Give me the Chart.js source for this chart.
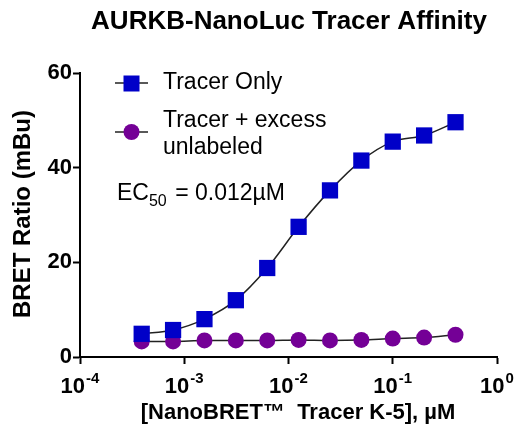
<!DOCTYPE html>
<html>
<head>
<meta charset="utf-8">
<script src="https://cdn.jsdelivr.net/npm/chart.js@4.4.1/dist/chart.umd.min.js"></script>
<style>
  body { margin: 0; background: #fff; }
  canvas { display: block; }
</style>
</head>
<body>
<canvas id="canvas" width="517" height="429"></canvas>
<script>
// tracer concentrations (uM), 2-fold dilutions
const CONC = [0.000390625, 0.00078125, 0.0015625, 0.003125, 0.00625, 0.0125, 0.025, 0.05, 0.1, 0.2, 0.4];
const TRACER_ONLY = [4.9, 5.7, 8.0, 12.0, 18.8, 27.5, 35.2, 41.5, 45.5, 46.8, 49.6];
const TRACER_EXCESS = [3.3, 3.3, 3.5, 3.5, 3.5, 3.6, 3.5, 3.6, 3.9, 4.1, 4.7];
const X_TICKS = [-4, -3, -2, -1, 0];   // exponents
const Y_TICKS = [0, 20, 40, 60];

const FONT = '"Liberation Sans", Arial, sans-serif';
const BLUE = '#0000c8';
const PURPLE = '#740096';

const toPoints = (ys) => CONC.map((x, i) => ({ x: x, y: ys[i] }));

// draws title, axis titles, x tick labels with superscripts, legend and EC50 note
const extrasPlugin = {
    id: 'extras',
    afterDraw(chart) {
        const ctx = chart.ctx;
        const xs = chart.scales.x;
        const area = chart.chartArea;
        ctx.save();
        ctx.fillStyle = '#000';

        // title
        ctx.font = 'bold 26px ' + FONT;
        ctx.textAlign = 'center';
        ctx.textBaseline = 'middle';
        ctx.fillText('AURKB-NanoLuc Tracer Affinity', 289, 22);

        // x tick labels: 10^n
        X_TICKS.forEach((e) => {
            const px = xs.getPixelForValue(Math.pow(10, e));
            const base = '10';
            const sup = e === 0 ? '0' : '-' + Math.abs(e);
            ctx.font = 'bold 22px ' + FONT;
            const wb = ctx.measureText(base).width;
            ctx.font = 'bold 15px ' + FONT;
            const ws = ctx.measureText(sup).width;
            const x0 = px - (wb + ws + 1) / 2;
            ctx.textAlign = 'left';
            ctx.textBaseline = 'alphabetic';
            ctx.font = 'bold 22px ' + FONT;
            ctx.fillText(base, x0, 393);
            ctx.font = 'bold 15px ' + FONT;
            ctx.fillText(sup, x0 + wb + 1, 383);
        });

        // axis titles
        ctx.font = 'bold 22px ' + FONT;
        ctx.textAlign = 'center';
        ctx.textBaseline = 'middle';
        ctx.fillText('[NanoBRET\u2122  Tracer K-5], \u00b5M', 298, 413);
        ctx.save();
        ctx.translate(23, 214);
        ctx.rotate(-Math.PI / 2);
        ctx.font = 'bold 24px ' + FONT;
        ctx.fillText('BRET Ratio (mBu)', 0, 0);
        ctx.restore();

        // legend
        ctx.strokeStyle = '#222';
        ctx.lineWidth = 1.5;
        [[83, BLUE], [132, PURPLE]].forEach(([y, c], i) => {
            ctx.beginPath();
            ctx.moveTo(115, y);
            ctx.lineTo(148, y);
            ctx.stroke();
            ctx.fillStyle = c;
            ctx.beginPath();
            if (i === 0) {
                ctx.rect(123.5, 75.5, 16, 16);
            } else {
                ctx.arc(131.5, y, 8, 0, Math.PI * 2);
            }
            ctx.fill();
        });
        ctx.fillStyle = '#000';
        ctx.font = '23px ' + FONT;
        ctx.textAlign = 'left';
        ctx.textBaseline = 'middle';
        ctx.fillText('Tracer Only', 163, 83);
        ctx.fillText('Tracer + excess', 163, 121);
        ctx.fillText('unlabeled', 163, 148);

        // EC50 note
        ctx.textBaseline = 'alphabetic';
        let x = 117;
        ctx.font = '23px ' + FONT;
        ctx.fillText('EC', x, 200);
        x += ctx.measureText('EC').width;
        ctx.font = '16px ' + FONT;
        ctx.fillText('50', x, 206);
        x += ctx.measureText('50').width + 2;
        ctx.font = '23px ' + FONT;
        ctx.fillText(' = 0.012\u00b5M', x, 200);

        ctx.restore();
    }
};

const ctx = document.getElementById('canvas').getContext('2d');
window.myChart = new Chart(ctx, {
    type: 'line',
    data: {
        datasets: [{
            label: 'Tracer Only',
            data: toPoints(TRACER_ONLY),
            borderColor: '#222',
            borderWidth: 1.5,
            backgroundColor: BLUE,
            pointStyle: 'rect',
            pointRadius: 11.5,
            pointBorderWidth: 0,
            pointBackgroundColor: BLUE,
            cubicInterpolationMode: 'monotone',
            clip: false
        }, {
            label: 'Tracer + excess unlabeled',
            data: toPoints(TRACER_EXCESS),
            borderColor: '#222',
            borderWidth: 1.5,
            backgroundColor: PURPLE,
            pointStyle: 'circle',
            pointRadius: 8,
            pointBorderWidth: 0,
            pointBackgroundColor: PURPLE,
            cubicInterpolationMode: 'monotone',
            clip: false
        }]
    },
    options: {
        responsive: false,
        animation: false,
        devicePixelRatio: 1,
        layout: { padding: { top: 73, right: 20, bottom: 0, left: 0 } },
        plugins: {
            legend: { display: false },
            title: { display: false },
            tooltip: { enabled: false }
        },
        scales: {
            x: {
                type: 'logarithmic',
                min: 1e-4,
                max: 1,
                afterBuildTicks: (scale) => {
                    scale.ticks = X_TICKS.map((e) => ({ value: Math.pow(10, e) }));
                },
                afterFit: (scale) => { scale.height = 72; },
                ticks: { display: false },
                grid: {
                    drawOnChartArea: false,
                    drawTicks: true,
                    tickLength: 7,
                    tickWidth: 2,
                    tickColor: '#000'
                },
                border: { display: true, color: '#000', width: 2 }
            },
            y: {
                min: 0,
                max: 60,
                afterBuildTicks: (scale) => {
                    scale.ticks = Y_TICKS.map((v) => ({ value: v }));
                },
                afterFit: (scale) => { scale.width = 80; },
                ticks: {
                    color: '#000',
                    padding: 1,
                    font: { family: FONT, size: 22, weight: 'bold' }
                },
                grid: {
                    drawOnChartArea: false,
                    drawTicks: true,
                    tickLength: 7,
                    tickWidth: 2,
                    tickColor: '#000'
                },
                border: { display: true, color: '#000', width: 2 }
            }
        }
    },
    plugins: [extrasPlugin]
});
</script>
</body>
</html>
